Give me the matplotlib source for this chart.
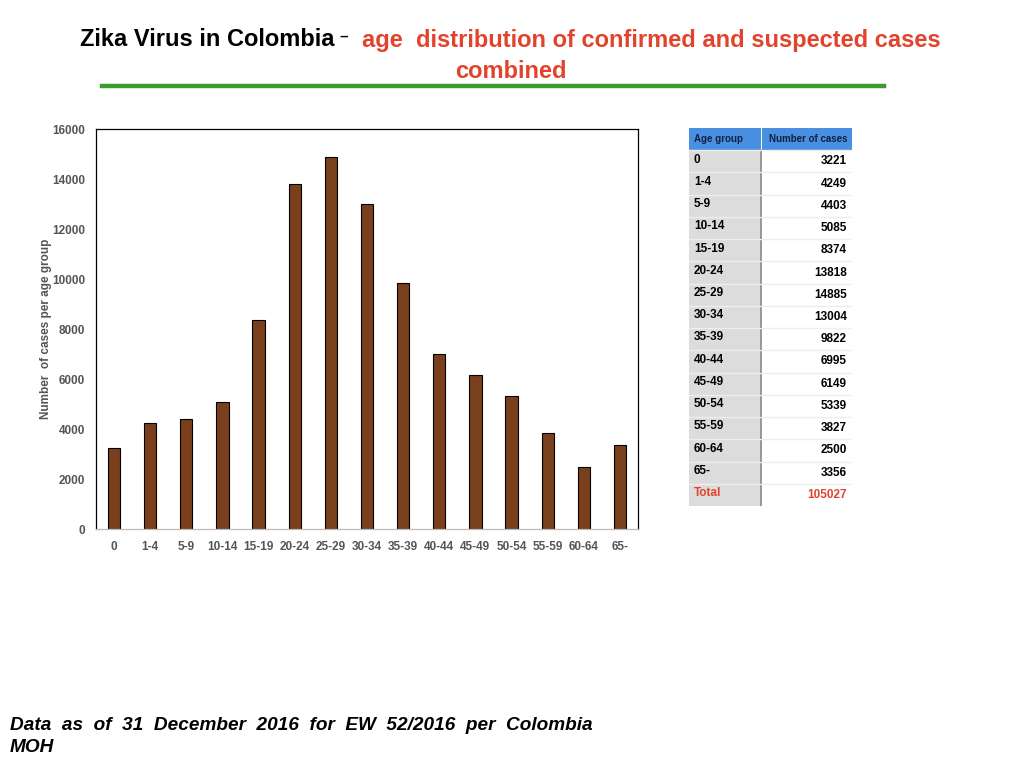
import matplotlib
matplotlib.use('Agg')
import matplotlib.pyplot as plt
from matplotlib.patches import Rectangle
import numpy as np

plt.rcParams['font.family'] = ['Liberation Sans', 'DejaVu Sans']

# data
age_groups = ['0', '1-4', '5-9', '10-14', '15-19', '20-24', '25-29', '30-34',
              '35-39', '40-44', '45-49', '50-54', '55-59', '60-64', '65-']
cases = [3221, 4249, 4403, 5085, 8374, 13818, 14885, 13004,
         9822, 6995, 6149, 5339, 3827, 2500, 3356]
total = 105027
yticks = [0, 2000, 4000, 6000, 8000, 10000, 12000, 14000, 16000]

bar_color = '#7A3F1C'
red = '#E2432C'
grey_txt = '#555555'

fig = plt.figure(figsize=(10.24, 7.68), dpi=100)

# title
fig.text(80/1024, 1 - 40/768, 'Zika Virus in Colombia', fontsize=17,
         fontweight='bold', color='black', ha='left', va='center')
fig.text(339/1024, 1 - 37/768, '\u2013', fontsize=11, fontweight='bold',
         color='black', ha='left', va='center')
fig.text(362/1024, 1 - 40/768, 'age  distribution of confirmed and suspected cases',
         fontsize=17, fontweight='bold', color=red, ha='left', va='center')
fig.text(511/1024, 1 - 71/768, 'combined', fontsize=17, fontweight='bold',
         color=red, ha='center', va='center')
fig.add_artist(plt.Line2D([102/1024, 884/1024], [1 - 86/768, 1 - 86/768],
                          color='#3E9A2E', linewidth=3.2))

# bar chart
ax = fig.add_axes([96/1024, 1 - 529/768, (638 - 96)/1024, (529 - 129)/768])
x = np.arange(len(age_groups))
ax.bar(x, cases, width=0.34, color=bar_color, edgecolor='black', linewidth=0.8)
ax.set_xlim(-0.5, len(age_groups) - 0.5)
ax.set_ylim(0, 16000)
ax.set_yticks(yticks)
ax.set_yticklabels([str(t) for t in yticks], fontsize=8.5, fontweight='bold', color=grey_txt)
ax.set_xticks(x)
ax.set_xticklabels(age_groups, fontsize=8.5, fontweight='bold', color=grey_txt)
ax.tick_params(axis='both', length=0)
ax.tick_params(axis='y', pad=8)
ax.tick_params(axis='x', pad=9)
for s in ['left', 'top', 'right']:
    ax.spines[s].set_color('black')
    ax.spines[s].set_linewidth(0.9)
ax.spines['bottom'].set_color('#bbbbbb')
ax.spines['bottom'].set_linewidth(0.9)
ax.set_ylabel('Number  of cases per age group', fontsize=8.5, fontweight='bold',
              color=grey_txt, labelpad=0)

# table on the right
tab = fig.add_axes([689/1024, 1 - 506/768, (852 - 689)/1024, (506 - 128)/768])
tab.set_xlim(0, 1)
nrows = len(age_groups) + 2
tab.set_ylim(nrows, 0)
tab.axis('off')
split = (761 - 689) / (852 - 689)

tab.add_patch(Rectangle((0, 0), 1, 1, facecolor='#4A90E2', edgecolor='none'))
tab.add_patch(Rectangle((split, 0), 0.004, 1, facecolor='white', edgecolor='none'))
tab.text(0.03, 0.5, 'Age group', fontsize=7, fontweight='bold', color='#10203F', va='center')
tab.text(0.97, 0.5, 'Number of cases', fontsize=7, fontweight='bold', color='#10203F',
         va='center', ha='right')

rows = list(zip(age_groups, [str(c) for c in cases])) + [('Total', str(total))]
for i, (g, c) in enumerate(rows):
    r = i + 1
    col = red if g == 'Total' else 'black'
    tab.add_patch(Rectangle((0, r), split, 1, facecolor='#DCDCDC', edgecolor='none'))
    tab.add_patch(Rectangle((split, r), 1 - split, 1, facecolor='white', edgecolor='none'))
    tab.plot([split, split], [r, r + 1], color='#888888', linewidth=1.2)
    tab.plot([0, 1], [r, r], color='#EEEEEE', linewidth=1)
    tab.text(0.03, r + 0.42, g, fontsize=8.5, fontweight='bold', color=col, va='center')
    tab.text(0.97, r + 0.5, c, fontsize=8.5, fontweight='bold', color=col,
             va='center', ha='right')

# footer note
fig.text(10/1024, 1 - 725/768, 'Data  as  of  31  December  2016  for  EW  52/2016  per  Colombia',
         fontsize=13.7, fontweight='bold', fontstyle='italic', ha='left', va='center')
fig.text(10/1024, 1 - 748/768, 'MOH', fontsize=13.7, fontweight='bold',
         fontstyle='italic', ha='left', va='center')

fig.savefig('out.png', dpi=100)
